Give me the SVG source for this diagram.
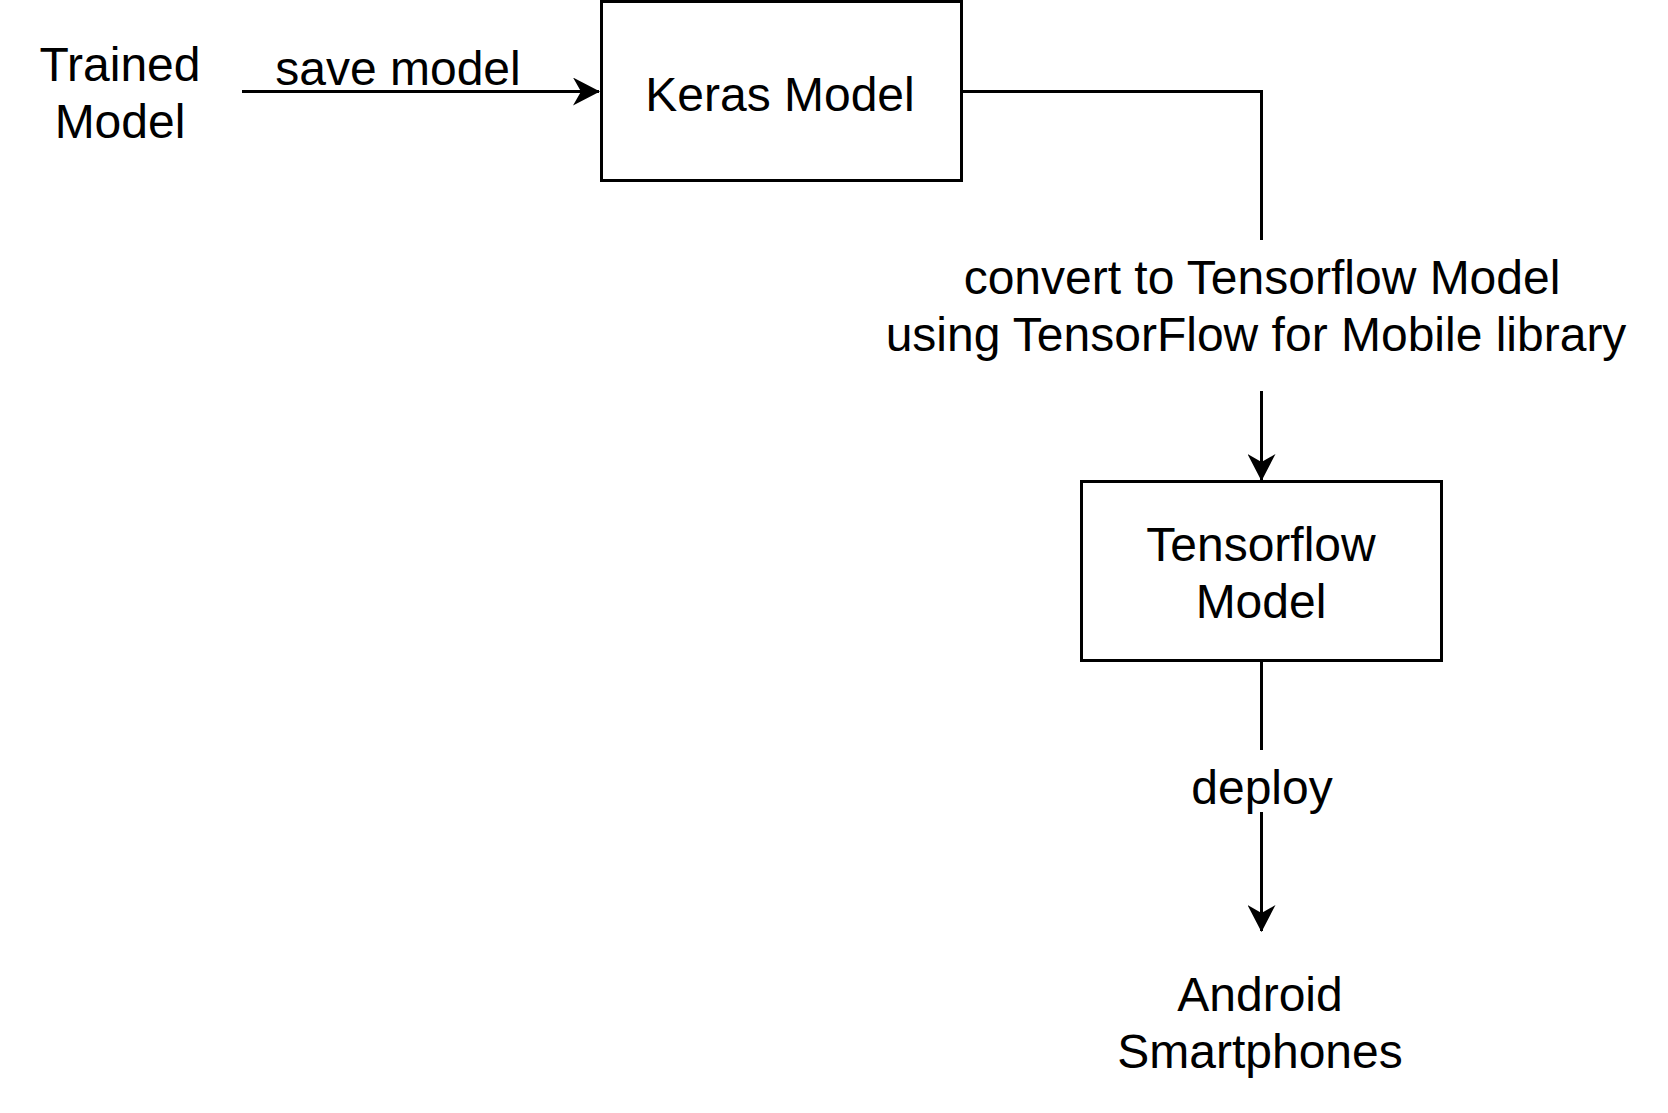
<svg xmlns="http://www.w3.org/2000/svg" width="1668" height="1113" viewBox="0 0 1668 1113">
<style>
.t{font-family:"Liberation Sans",Arial,sans-serif;font-size:48px;fill:#000;text-anchor:middle}
.b{fill:#fff;stroke:#000;stroke-width:3}
.c{fill:none;stroke:#000;stroke-width:3}
</style>
<defs>
<marker id="ah" viewBox="0 0 27 28" refX="26" refY="14" markerWidth="27" markerHeight="28" markerUnits="userSpaceOnUse" orient="auto">
<path d="M0,0 L27,14 L0,28 L8,14 Z" fill="#000"/>
</marker>
</defs>
<rect width="1668" height="1113" fill="#fff"/>
<g id="connectors">
<path class="c" d="M242,91.5 H599" marker-end="url(#ah)"/>
<path class="c" d="M962,91.5 H1261.5 V240"/>
<path class="c" d="M1261.5,391 V480" marker-end="url(#ah)"/>
<path class="c" d="M1261.5,661 V750"/>
<path class="c" d="M1261.5,812 V931" marker-end="url(#ah)"/>
</g>
<g id="trained-model">
<text class="t" x="120" y="81">Trained</text>
<text class="t" x="120" y="138">Model</text>
</g>
<g id="label-save">
<text class="t" x="398" y="85">save model</text>
</g>
<g id="keras-model">
<rect class="b" x="601.5" y="1.5" width="360" height="179"/>
<text class="t" x="780" y="111">Keras Model</text>
</g>
<g id="label-convert">
<text class="t" x="1262" y="294">convert to Tensorflow Model</text>
<text class="t" x="1256" y="351">using TensorFlow for Mobile library</text>
</g>
<g id="tensorflow-model">
<rect class="b" x="1081.5" y="481.5" width="360" height="179"/>
<text class="t" x="1261" y="561">Tensorflow</text>
<text class="t" x="1261" y="618">Model</text>
</g>
<g id="label-deploy">
<text class="t" x="1262" y="804">deploy</text>
</g>
<g id="android">
<text class="t" x="1260" y="1011">Android</text>
<text class="t" x="1260" y="1068">Smartphones</text>
</g>
</svg>
